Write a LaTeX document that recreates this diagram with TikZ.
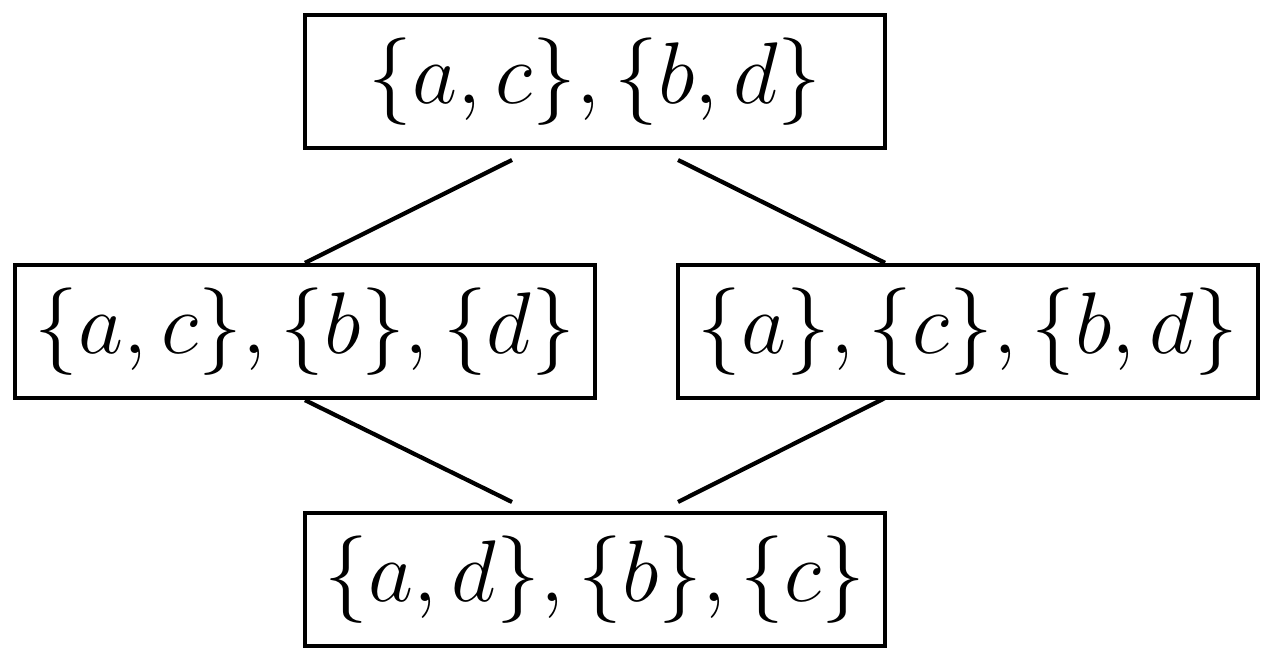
\documentclass[tikz,border=0pt]{standalone}
\begin{document}
\begin{tikzpicture}[x=0.01cm,y=-0.01cm,
  box/.style={draw,line width=1.2pt,minimum width=5.8cm,minimum height=1.33cm,inner sep=0pt,font=\fontsize{23}{28}\selectfont},
  conn/.style={line width=1.2pt}]
\useasboundingbox (0,0) rectangle (1276,664);
\node[box] (t) at (595,81.5) {$\{a,c\},\{b,d\}$};
\node[box] (l) at (305,331.5) {$\{a,c\},\{b\},\{d\}$};
\node[box] (r) at (968,331.5) {$\{a\},\{c\},\{b,d\}$};
\node[box] (b) at (595,579.5) {$\{a,d\},\{b\},\{c\}$};
\coordinate (t1) at (512,160); \coordinate (t2) at (678,160);
\coordinate (b1) at (512,502); \coordinate (b2) at (678,502);
\draw[conn] (t1) -- (l.north);
\draw[conn] (t2) -- (r.north west -| 885,0);
\draw[conn] (l.south) -- (b1);
\draw[conn] (885,398) -- (b2);
\end{tikzpicture}
\end{document}
